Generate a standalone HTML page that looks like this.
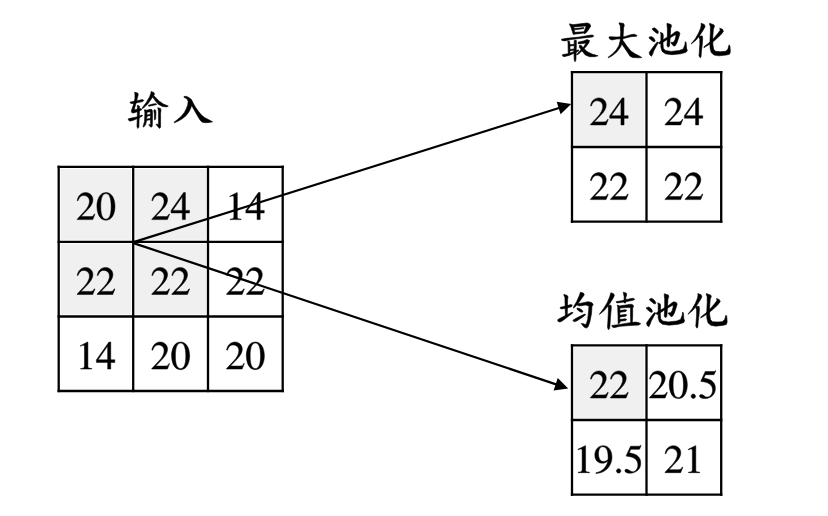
<!DOCTYPE html>
<html><head><meta charset="utf-8"><style>
html,body{margin:0;padding:0;background:#fff;width:828px;height:516px;overflow:hidden;font-family:"Liberation Serif",serif}
</style></head><body><svg width="828" height="516" viewBox="0 0 828 516" style="display:block"><defs><g id="chi"><path d="M652.33,28.59 L654.36,27.77 L656.81,29.40 L658.44,31.84 L658.03,33.47 L656.40,33.07 L653.96,31.03 L652.49,29.81Z" stroke="#000" stroke-width="0.6" stroke-linejoin="round"/><path d="M649.07,37.14 L651.51,36.57 L653.96,38.36 L655.18,40.80 L654.36,42.02 L652.74,41.21 L650.70,39.58 L649.23,38.36Z" stroke="#000" stroke-width="0.6" stroke-linejoin="round"/><path d="M657.21,42.02 L658.44,42.43 L656.40,46.09 L653.96,50.57 L652.74,53.83 L651.51,56.27 L649.89,55.05 L649.23,52.61 L651.11,49.76 L654.77,44.87Z" stroke="#000" stroke-width="0.6" stroke-linejoin="round"/><path d="M658.78,42.73 L660.33,41.57 L663.81,39.24 L667.69,36.91 L671.57,34.78 L674.67,32.26 L676.60,31.29 L678.93,31.88 L679.90,33.43 L679.32,35.75 L678.16,39.24 L676.99,42.73 L675.44,45.44 L673.89,46.22 L672.73,45.05 L670.79,42.73 L671.57,42.34 L673.50,42.34 L675.05,39.63 L675.83,36.53 L675.83,34.59 L673.50,35.75 L669.63,38.08 L665.75,40.40 L662.26,42.73 L659.94,43.89 L658.97,43.50Z" stroke="#000" stroke-width="0.6" stroke-linejoin="round"/><path d="M666.99,23.29 L671.06,24.51 L671.47,26.14 L670.65,28.59 L670.24,35.92 L669.84,42.43 L669.43,46.09 L668.21,47.32 L666.99,45.69 L667.39,38.36 L667.39,28.59 L666.99,24.92Z" stroke="#000" stroke-width="0.6" stroke-linejoin="round"/><path d="M660.47,32.25 L662.92,33.47 L663.32,35.92 L662.92,42.43 L663.32,48.13 L665.36,50.57 L671.06,51.39 L679.20,50.57 L683.27,48.94 L684.90,44.87 L685.31,41.62 L686.12,42.43 L686.53,48.13 L687.35,50.57 L686.12,52.20 L680.83,53.83 L671.87,54.64 L665.36,53.83 L662.10,51.39 L660.88,47.32 L660.88,39.99 L660.88,34.29Z" stroke="#000" stroke-width="0.6" stroke-linejoin="round"/></g><g id="hua"><path d="M701.03,23.26 L704.29,24.48 L705.10,26.51 L703.88,28.96 L700.21,34.66 L696.14,39.95 L691.26,44.02 L691.66,43.21 L695.33,38.73 L698.59,33.03 L700.62,28.14 L701.19,25.29Z" stroke="#000" stroke-width="0.6" stroke-linejoin="round"/><path d="M698.59,36.29 L702.25,35.88 L702.66,38.73 L702.25,44.43 L701.44,50.94 L701.03,56.64 L700.21,57.87 L698.99,55.83 L699.40,50.94 L699.81,44.43 L699.81,39.54 L698.99,37.51Z" stroke="#000" stroke-width="0.6" stroke-linejoin="round"/><path d="M719.76,28.14 L722.61,29.36 L723.42,31.40 L720.57,35.07 L715.69,39.54 L709.99,44.02 L703.88,47.69 L704.29,46.47 L709.17,42.80 L714.06,37.92 L718.13,33.03 L720.17,30.18Z" stroke="#000" stroke-width="0.6" stroke-linejoin="round"/><path d="M709.58,23.26 L714.06,24.89 L714.47,26.51 L713.41,28.96 L712.84,36.29 L712.84,44.43 L713.65,49.32 L715.69,51.35 L720.57,51.76 L725.46,51.35 L727.90,49.32 L728.72,46.06 L729.12,44.84 L729.94,46.06 L730.35,51.76 L729.53,54.20 L726.27,55.02 L718.94,55.83 L714.06,55.02 L711.21,52.57 L709.99,47.69 L709.99,40.36 L710.39,32.21 L710.39,26.51 L709.58,24.48Z" stroke="#000" stroke-width="0.6" stroke-linejoin="round"/></g><path id="g0" d="M476 330C476 535 385 676 254 676C199 676 157 659 120 624C62 568 24 453 24 336C24 227 57 110 104 54C141 10 192 -14 250 -14C301 -14 344 3 380 38C438 93 476 209 476 330ZM380 328C380 119 336 12 250 12C164 12 120 119 120 327C120 539 165 650 251 650C335 650 380 537 380 328Z" stroke="#000" stroke-width="12"/><path id="g1" d="M394 0V15C315 16 299 26 299 74V674L291 676L111 585V571C123 576 134 580 138 582C156 589 173 593 183 593C204 593 213 578 213 546V93C213 60 205 37 189 28C174 19 160 16 118 15V0Z" stroke="#000" stroke-width="12"/><path id="g2" d="M475 137 462 142C425 85 412 76 367 76H128L296 252C385 345 424 421 424 499C424 599 343 676 239 676C184 676 132 654 95 614C63 580 48 548 31 477L52 472C92 570 128 602 197 602C281 602 338 545 338 461C338 383 292 290 208 201L30 12V0H420Z" stroke="#000" stroke-width="12"/><path id="g4" d="M472 167V231H370V676H326L12 231V167H293V0H370V167ZM292 231H52L292 574Z" stroke="#000" stroke-width="12"/><path id="g5" d="M438 681 429 688C414 667 404 662 383 662H174L65 425C64 423 64 420 64 420C64 415 68 412 76 412C108 412 148 405 189 392C304 355 357 293 357 194C357 98 296 23 218 23C198 23 181 30 151 52C119 75 96 85 75 85C46 85 32 73 32 48C32 10 79 -14 154 -14C238 -14 310 13 360 64C406 109 427 166 427 242C427 314 408 360 358 410C314 454 257 477 139 498L181 583H377C393 583 397 585 400 592Z" stroke="#000" stroke-width="12"/><path id="g9" d="M459 394C459 559 367 676 238 676C119 676 30 575 30 440C30 318 102 237 210 237C265 237 307 253 360 294C319 131 208 24 56 -2L59 -22C171 -9 226 10 294 59C398 135 459 259 459 394ZM362 355C362 335 358 326 347 317C319 293 282 280 246 280C170 280 122 355 122 474C122 531 138 591 159 617C176 637 201 648 230 648C317 648 362 562 362 394Z" stroke="#000" stroke-width="12"/><path id="gdot" d="M181 43C181 74 155 100 125 100C95 100 70 74 70 43C70 14 95 -11 124 -11C155 -11 181 14 181 43Z" stroke="#000" stroke-width="12"/></defs><rect width="828" height="516" fill="#fff"/><g fill="#000"><rect x="60.75" y="168.85" width="70.40" height="70.90" fill="#f0f0f0"/><rect x="135.25" y="168.85" width="70.70" height="70.90" fill="#f0f0f0"/><rect x="60.75" y="243.85" width="70.40" height="70.60" fill="#f0f0f0"/><rect x="135.25" y="243.85" width="70.70" height="70.60" fill="#f0f0f0"/><use href="#g2" transform="translate(75.95,219.62) scale(0.04000,-0.04000)"/><use href="#g0" transform="translate(95.95,219.62) scale(0.04000,-0.04000)"/><use href="#g2" transform="translate(150.60,219.62) scale(0.04000,-0.04000)"/><use href="#g4" transform="translate(170.60,219.62) scale(0.04000,-0.04000)"/><use href="#g1" transform="translate(225.35,219.62) scale(0.04000,-0.04000)"/><use href="#g4" transform="translate(245.35,219.62) scale(0.04000,-0.04000)"/><use href="#g2" transform="translate(75.95,294.47) scale(0.04000,-0.04000)"/><use href="#g2" transform="translate(95.95,294.47) scale(0.04000,-0.04000)"/><use href="#g2" transform="translate(150.60,294.47) scale(0.04000,-0.04000)"/><use href="#g2" transform="translate(170.60,294.47) scale(0.04000,-0.04000)"/><use href="#g2" transform="translate(225.35,294.47) scale(0.04000,-0.04000)"/><use href="#g2" transform="translate(245.35,294.47) scale(0.04000,-0.04000)"/><use href="#g1" transform="translate(75.95,369.07) scale(0.04000,-0.04000)"/><use href="#g4" transform="translate(95.95,369.07) scale(0.04000,-0.04000)"/><use href="#g2" transform="translate(150.60,369.07) scale(0.04000,-0.04000)"/><use href="#g0" transform="translate(170.60,369.07) scale(0.04000,-0.04000)"/><use href="#g2" transform="translate(225.35,369.07) scale(0.04000,-0.04000)"/><use href="#g0" transform="translate(245.35,369.07) scale(0.04000,-0.04000)"/><line x1="58.7" y1="166.8" x2="58.7" y2="391" stroke="#000" stroke-width="2.3" stroke-linecap="square"/><line x1="133.2" y1="166.8" x2="133.2" y2="391" stroke="#000" stroke-width="2.3" stroke-linecap="square"/><line x1="208" y1="166.8" x2="208" y2="391" stroke="#000" stroke-width="2.3" stroke-linecap="square"/><line x1="282.7" y1="166.8" x2="282.7" y2="391" stroke="#000" stroke-width="2.3" stroke-linecap="square"/><line x1="58.7" y1="166.8" x2="282.7" y2="166.8" stroke="#000" stroke-width="2.3" stroke-linecap="square"/><line x1="58.7" y1="241.8" x2="282.7" y2="241.8" stroke="#000" stroke-width="2.3" stroke-linecap="square"/><line x1="58.7" y1="316.5" x2="282.7" y2="316.5" stroke="#000" stroke-width="2.3" stroke-linecap="square"/><line x1="58.7" y1="391" x2="282.7" y2="391" stroke="#000" stroke-width="2.3" stroke-linecap="square"/><rect x="574.05" y="74.25" width="70.40" height="70.70" fill="#f0f0f0"/><use href="#g2" transform="translate(589.25,124.92) scale(0.04000,-0.04000)"/><use href="#g4" transform="translate(609.25,124.92) scale(0.04000,-0.04000)"/><use href="#g2" transform="translate(663.85,124.92) scale(0.04000,-0.04000)"/><use href="#g4" transform="translate(683.85,124.92) scale(0.04000,-0.04000)"/><use href="#g2" transform="translate(589.25,199.62) scale(0.04000,-0.04000)"/><use href="#g2" transform="translate(609.25,199.62) scale(0.04000,-0.04000)"/><use href="#g2" transform="translate(663.85,199.62) scale(0.04000,-0.04000)"/><use href="#g2" transform="translate(683.85,199.62) scale(0.04000,-0.04000)"/><line x1="572" y1="72.2" x2="572" y2="221.6" stroke="#000" stroke-width="2.3" stroke-linecap="square"/><line x1="646.5" y1="72.2" x2="646.5" y2="221.6" stroke="#000" stroke-width="2.3" stroke-linecap="square"/><line x1="721.2" y1="72.2" x2="721.2" y2="221.6" stroke="#000" stroke-width="2.3" stroke-linecap="square"/><line x1="572" y1="72.2" x2="721.2" y2="72.2" stroke="#000" stroke-width="2.3" stroke-linecap="square"/><line x1="572" y1="147" x2="721.2" y2="147" stroke="#000" stroke-width="2.3" stroke-linecap="square"/><line x1="572" y1="221.6" x2="721.2" y2="221.6" stroke="#000" stroke-width="2.3" stroke-linecap="square"/><rect x="574.05" y="347.45" width="70.40" height="70.50" fill="#f0f0f0"/><use href="#g2" transform="translate(589.25,398.02) scale(0.04000,-0.04000)"/><use href="#g2" transform="translate(609.25,398.02) scale(0.04000,-0.04000)"/><use href="#g2" transform="translate(648.29,398.02) scale(0.04000,-0.04000)"/><use href="#g0" transform="translate(668.29,398.02) scale(0.04000,-0.04000)"/><use href="#gdot" transform="translate(688.29,398.02) scale(0.04000,-0.04000)"/><use href="#g5" transform="translate(698.29,398.02) scale(0.04000,-0.04000)"/><use href="#g1" transform="translate(573.62,472.67) scale(0.04000,-0.04000)"/><use href="#g9" transform="translate(593.62,472.67) scale(0.04000,-0.04000)"/><use href="#gdot" transform="translate(613.62,472.67) scale(0.04000,-0.04000)"/><use href="#g5" transform="translate(623.62,472.67) scale(0.04000,-0.04000)"/><use href="#g2" transform="translate(663.85,472.67) scale(0.04000,-0.04000)"/><use href="#g1" transform="translate(683.85,472.67) scale(0.04000,-0.04000)"/><line x1="572" y1="345.4" x2="572" y2="494.7" stroke="#000" stroke-width="2.3" stroke-linecap="square"/><line x1="646.5" y1="345.4" x2="646.5" y2="494.7" stroke="#000" stroke-width="2.3" stroke-linecap="square"/><line x1="721.2" y1="345.4" x2="721.2" y2="494.7" stroke="#000" stroke-width="2.3" stroke-linecap="square"/><line x1="572" y1="345.4" x2="721.2" y2="345.4" stroke="#000" stroke-width="2.3" stroke-linecap="square"/><line x1="572" y1="420" x2="721.2" y2="420" stroke="#000" stroke-width="2.3" stroke-linecap="square"/><line x1="572" y1="494.7" x2="721.2" y2="494.7" stroke="#000" stroke-width="2.3" stroke-linecap="square"/><line x1="133.6" y1="242.15" x2="560.52" y2="107.47" stroke="#000" stroke-width="2.2"/><path d="M571.20,104.10 L560.57,114.27 L556.66,101.87 Z"/><line x1="133.6" y1="243.1" x2="557.58" y2="384.85" stroke="#000" stroke-width="2.2"/><path d="M568.20,388.40 L553.62,390.38 L557.74,378.05 Z"/><path d="M130.07,102.01 L134.95,101.20 L142.27,99.57 L143.89,100.39 L142.67,101.61 L136.57,102.83 L131.69,103.64 L130.23,102.99Z" stroke="#000" stroke-width="0.6" stroke-linejoin="round"/><path d="M134.54,92.25 L137.79,93.07 L138.20,94.69 L136.98,99.57 L134.95,106.89 L134.13,109.74 L137.39,109.33 L141.05,108.52 L141.86,109.74 L138.20,111.37 L133.73,112.99 L131.69,112.59 L131.29,110.96 L133.32,105.27 L134.95,98.76 L134.95,93.88Z" stroke="#000" stroke-width="0.6" stroke-linejoin="round"/><path d="M137.39,105.27 L139.42,106.08 L139.42,113.40 L139.01,121.53 L138.85,127.23 L137.79,128.45 L136.98,126.41 L137.22,119.91 L137.39,111.77Z" stroke="#000" stroke-width="0.6" stroke-linejoin="round"/><path d="M128.44,118.69 L132.51,117.87 L138.20,116.65 L141.86,115.03 L142.67,115.84 L139.01,117.87 L133.32,120.31 L130.07,121.13 L128.28,119.91Z" stroke="#000" stroke-width="0.6" stroke-linejoin="round"/><path d="M151.21,91.44 L154.06,92.66 L154.47,94.29 L152.03,97.95 L147.96,103.64 L143.49,108.11 L142.27,108.52 L142.67,107.30 L146.33,102.42 L149.59,96.73 L150.81,93.47Z" stroke="#000" stroke-width="0.6" stroke-linejoin="round"/><path d="M153.65,95.51 L156.09,97.95 L159.35,101.20 L163.41,104.05 L168.29,106.08 L166.67,106.89 L162.60,106.49 L158.53,104.45 L155.28,100.79 L152.84,97.13Z" stroke="#000" stroke-width="0.6" stroke-linejoin="round"/><path d="M148.37,105.27 L152.84,104.05 L156.09,103.64 L156.74,104.45 L153.65,105.27 L148.77,106.24Z" stroke="#000" stroke-width="0.6" stroke-linejoin="round"/><path d="M144.30,109.74 L146.74,110.15 L146.98,112.59 L146.74,119.91 L145.52,124.79 L143.49,127.23 L143.08,126.41 L144.54,121.53 L144.87,113.40 L144.71,110.96Z" stroke="#000" stroke-width="0.6" stroke-linejoin="round"/><path d="M146.74,110.15 L150.40,109.33 L152.03,109.74 L152.43,111.37 L152.43,121.53 L152.19,126.41 L150.81,127.23 L148.77,124.79 L149.59,124.38 L150.56,124.79 L150.56,119.91 L150.40,111.77 L146.98,112.18Z" stroke="#000" stroke-width="0.6" stroke-linejoin="round"/><path d="M146.98,115.03 L150.40,114.21 L150.56,115.43 L146.98,116.25Z" stroke="#000" stroke-width="0.6" stroke-linejoin="round"/><path d="M146.98,119.09 L150.40,118.44 L150.56,119.66 L146.98,120.31Z" stroke="#000" stroke-width="0.6" stroke-linejoin="round"/><path d="M154.06,109.74 L155.69,110.15 L155.93,112.59 L155.69,119.09 L154.47,119.91 L154.30,113.40 L153.90,110.96Z" stroke="#000" stroke-width="0.6" stroke-linejoin="round"/><path d="M157.72,107.71 L160.57,108.52 L160.97,110.15 L160.57,113.40 L160.57,121.53 L160.57,127.23 L159.51,128.45 L157.72,126.41 L156.09,124.38 L156.91,123.97 L158.53,124.79 L158.53,119.91 L158.53,111.77 L158.13,109.33Z" stroke="#000" stroke-width="0.6" stroke-linejoin="round"/><path d="M183.91,96.61 L185.95,96.21 L188.85,97.49 L191.17,99.81 L192.05,102.13 L191.76,105.04 L190.59,108.53 L188.85,112.01 L185.95,115.79 L181.88,118.99 L177.81,121.31 L174.32,122.76 L174.03,122.18 L177.23,119.86 L181.30,116.37 L184.49,112.30 L186.53,108.24 L187.80,104.46 L188.15,101.55 L187.40,99.52 L185.65,98.07 L184.20,97.60Z" stroke="#000" stroke-width="0.6" stroke-linejoin="round"/><path d="M189.26,98.00 L191.43,99.63 L193.05,102.88 L195.50,107.22 L198.21,111.02 L201.19,114.82 L204.45,117.53 L208.25,119.43 L212.59,121.87 L209.33,122.42 L205.53,122.69 L202.28,122.15 L200.38,120.52 L198.48,117.53 L196.31,113.74 L194.14,109.94 L191.70,105.60 L190.34,103.97 L189.26,101.26Z" stroke="#000" stroke-width="0.6" stroke-linejoin="round"/><path d="M608.88,37.09 L610.10,36.68 L616.21,37.09 L624.34,36.68 L631.66,34.48 L634.51,34.24 L636.95,35.46 L636.55,36.27 L630.85,36.68 L623.53,38.55 L616.21,39.12 L612.14,39.93 L609.70,39.12Z" stroke="#000" stroke-width="0.6" stroke-linejoin="round"/><path d="M619.05,22.85 L623.53,23.42 L624.34,25.29 L623.53,28.14 L623.12,36.27 L622.55,41.97 L620.68,46.85 L617.02,51.73 L612.14,55.80 L608.48,57.84 L608.07,57.27 L612.14,54.17 L616.21,50.11 L619.05,45.22 L620.27,40.34 L620.68,32.21 L620.27,25.70 L619.30,24.07Z" stroke="#000" stroke-width="0.6" stroke-linejoin="round"/><path d="M622.31,40.34 L623.53,41.16 L626.78,46.04 L630.85,50.92 L634.92,53.77 L638.99,55.80 L641.84,57.59 L638.17,57.84 L632.48,57.43 L630.04,56.21 L627.60,52.55 L624.34,47.66 L621.49,43.60Z" stroke="#000" stroke-width="0.6" stroke-linejoin="round"/><path d="M569.51,23.84 L572.92,24.69 L573.78,26.82 L574.63,31.94 L575.05,34.07 L573.35,34.50 L572.50,31.94 L570.79,26.82 L569.77,24.95Z" stroke="#000" stroke-width="0.6" stroke-linejoin="round"/><path d="M572.92,24.69 L580.17,23.84 L586.99,22.98 L589.55,23.84 L590.83,25.97 L588.70,29.38 L586.14,32.79 L584.01,33.64 L584.01,31.94 L585.29,28.53 L586.14,25.97 L580.17,26.40 L573.78,26.99Z" stroke="#000" stroke-width="0.6" stroke-linejoin="round"/><path d="M574.20,28.53 L579.32,28.10 L583.58,27.50 L584.01,28.53 L579.32,29.21 L574.37,29.81Z" stroke="#000" stroke-width="0.6" stroke-linejoin="round"/><path d="M574.63,32.36 L580.17,31.94 L584.43,31.77 L584.61,32.79 L579.32,33.64 L574.88,34.07Z" stroke="#000" stroke-width="0.6" stroke-linejoin="round"/><path d="M561.41,39.19 L566.53,38.33 L579.32,37.05 L589.55,35.35 L592.54,34.92 L593.81,36.20 L592.11,37.05 L583.58,37.91 L570.79,39.61 L564.82,40.89 L561.84,40.47Z" stroke="#000" stroke-width="0.6" stroke-linejoin="round"/><path d="M567.81,40.89 L569.51,41.32 L569.94,43.88 L569.94,53.26 L568.23,53.68 L568.06,43.88Z" stroke="#000" stroke-width="0.6" stroke-linejoin="round"/><path d="M574.63,40.04 L576.33,40.47 L576.33,45.58 L576.08,54.11 L575.91,60.08 L575.05,61.78 L574.20,60.08 L574.03,54.11 L574.20,45.58 L574.20,40.89Z" stroke="#000" stroke-width="0.6" stroke-linejoin="round"/><path d="M569.94,44.73 L574.20,44.30 L574.20,45.58 L569.94,46.01Z" stroke="#000" stroke-width="0.6" stroke-linejoin="round"/><path d="M569.94,49.42 L574.20,48.99 L574.20,50.27 L569.94,50.70Z" stroke="#000" stroke-width="0.6" stroke-linejoin="round"/><path d="M562.69,54.54 L568.23,53.68 L574.20,51.55 L578.47,49.85 L578.89,50.87 L575.05,52.83 L569.09,55.39 L563.97,56.67 L562.26,55.81Z" stroke="#000" stroke-width="0.6" stroke-linejoin="round"/><path d="M578.04,42.17 L583.58,40.89 L586.99,39.61 L589.55,40.47 L588.70,43.02 L586.14,46.43 L582.73,50.27 L578.47,54.11 L576.33,54.96 L577.61,53.26 L581.02,49.85 L584.01,46.43 L586.14,43.02 L582.73,43.45 L578.47,43.88Z" stroke="#000" stroke-width="0.6" stroke-linejoin="round"/><path d="M579.32,45.58 L581.02,45.16 L583.58,48.14 L586.99,51.55 L592.11,54.11 L598.08,55.81 L594.67,56.67 L589.55,56.67 L585.29,54.96 L581.88,50.70 L579.32,47.29Z" stroke="#000" stroke-width="0.6" stroke-linejoin="round"/><path d="M560.39,307.18 L565.08,306.33 L570.62,304.62 L572.33,305.05 L571.48,306.76 L566.79,308.03 L561.67,308.89 L560.14,308.29Z" stroke="#000" stroke-width="0.6" stroke-linejoin="round"/><path d="M563.80,294.39 L566.79,295.25 L568.07,296.53 L567.64,299.08 L567.47,305.05 L567.21,316.13 L565.51,316.99 L565.08,305.05 L564.91,297.38 L564.06,295.67Z" stroke="#000" stroke-width="0.6" stroke-linejoin="round"/><path d="M557.84,319.54 L561.67,317.41 L567.64,314.43 L571.90,312.30 L573.18,312.72 L568.49,316.13 L562.53,320.82 L559.97,322.10 L557.84,321.25Z" stroke="#000" stroke-width="0.6" stroke-linejoin="round"/><path d="M580.43,292.26 L583.41,293.12 L584.26,294.82 L581.28,299.08 L577.87,303.77 L574.46,307.61 L573.18,308.03 L574.03,305.90 L576.59,301.64 L579.15,296.10 L580.00,293.54Z" stroke="#000" stroke-width="0.6" stroke-linejoin="round"/><path d="M577.87,303.77 L582.13,302.92 L588.10,301.64 L591.51,302.49 L593.22,304.20 L591.94,306.76 L591.51,313.58 L589.81,322.10 L588.10,326.79 L586.40,328.07 L584.26,327.22 L582.13,324.66 L581.28,323.38 L583.41,323.81 L585.97,324.66 L587.67,319.54 L588.53,311.87 L588.95,305.90 L585.54,305.05 L579.58,305.90 L577.02,305.05Z" stroke="#000" stroke-width="0.6" stroke-linejoin="round"/><path d="M577.02,308.03 L579.58,308.46 L582.13,310.17 L582.99,311.87 L581.71,312.30 L579.58,311.44 L577.02,309.31Z" stroke="#000" stroke-width="0.6" stroke-linejoin="round"/><path d="M573.18,319.97 L577.02,317.84 L582.99,314.85 L585.12,314.00 L585.54,314.85 L582.13,317.41 L577.02,320.82 L574.46,321.67 L572.93,320.82Z" stroke="#000" stroke-width="0.6" stroke-linejoin="round"/><path d="M610.92,292.69 L613.90,293.97 L614.33,295.67 L612.62,299.08 L608.79,305.05 L604.53,310.17 L599.41,314.43 L599.84,313.58 L603.67,308.46 L607.08,302.92 L609.64,296.95 L610.49,293.97Z" stroke="#000" stroke-width="0.6" stroke-linejoin="round"/><path d="M607.94,305.90 L610.92,305.05 L611.35,307.61 L610.49,316.13 L610.07,323.81 L609.64,328.49 L608.36,329.77 L607.51,327.22 L607.94,320.40 L608.36,311.87 L608.36,307.61Z" stroke="#000" stroke-width="0.6" stroke-linejoin="round"/><path d="M623.28,292.26 L626.26,293.12 L626.69,294.82 L625.84,297.38 L625.67,302.92 L624.13,302.92 L624.13,296.53 L623.45,293.54Z" stroke="#000" stroke-width="0.6" stroke-linejoin="round"/><path d="M616.03,301.64 L621.58,300.79 L630.10,298.66 L633.51,298.23 L634.79,299.51 L632.66,300.36 L625.84,301.64 L619.02,302.66 L616.89,302.92Z" stroke="#000" stroke-width="0.6" stroke-linejoin="round"/><path d="M617.31,305.05 L619.44,305.90 L619.87,307.61 L619.87,316.13 L619.87,322.95 L618.17,323.81 L617.99,315.28 L617.74,307.61Z" stroke="#000" stroke-width="0.6" stroke-linejoin="round"/><path d="M619.44,305.90 L625.84,305.05 L630.95,304.20 L633.08,305.05 L633.51,306.33 L632.66,308.46 L632.66,316.13 L632.23,323.81 L630.78,324.23 L630.53,316.13 L630.53,307.61 L625.84,307.61 L619.87,308.03Z" stroke="#000" stroke-width="0.6" stroke-linejoin="round"/><path d="M619.87,310.59 L624.99,309.74 L626.69,310.17 L625.84,311.44 L619.87,312.30Z" stroke="#000" stroke-width="0.6" stroke-linejoin="round"/><path d="M619.87,315.28 L624.99,314.43 L626.69,314.85 L625.84,316.13 L619.87,316.99Z" stroke="#000" stroke-width="0.6" stroke-linejoin="round"/><path d="M619.87,319.54 L624.99,318.86 L626.69,319.37 L625.84,320.57 L619.87,321.25Z" stroke="#000" stroke-width="0.6" stroke-linejoin="round"/><path d="M611.77,325.51 L618.17,324.66 L628.40,322.95 L635.22,322.10 L638.63,322.53 L640.76,323.81 L638.63,325.08 L630.10,325.51 L619.87,326.36 L613.90,327.64 L612.20,326.79Z" stroke="#000" stroke-width="0.6" stroke-linejoin="round"/><use href="#chi"/><use href="#hua"/><use href="#chi" transform="translate(-2.7,270.5)"/><use href="#hua" transform="translate(-3.2,270.3)"/></g></svg></body></html>
